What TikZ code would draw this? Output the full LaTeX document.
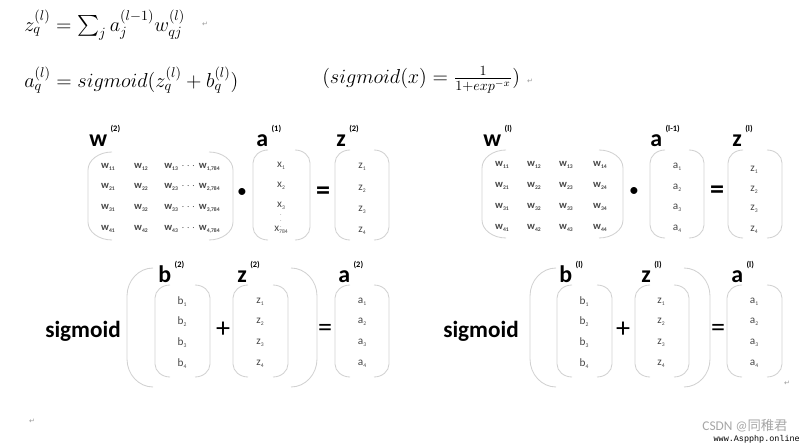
\documentclass[tikz,border=0pt]{standalone}
\usepackage{amsmath,amssymb}
\usepackage{fontspec}
\usepackage{xcolor}
\usepackage{tikz}
\usetikzlibrary{positioning}

\newfontfamily\calib{Carlito}
\newfontfamily\symf{DejaVu Sans}
\newfontfamily\cjk{Noto Sans CJK SC}
\newfontfamily\monof{Liberation Mono}

% entry with a tiny lowered index
\newcommand\ent[2]{#1\raisebox{-0.35ex}{\fontsize{4}{4}\selectfont #2}}
% vector label with a small raised layer tag
\newcommand\vlab[2]{#1\hspace{2.5pt}\raisebox{1.35ex}{\fontsize{6}{6}\selectfont #2}}

\begin{document}
\begin{tikzpicture}[
    x=0.025cm, y=-0.025cm,
    % thin grey bracket lines
    brk/.style={draw=black!18, line width=0.6pt},
    % formulas at the top
    eqn/.style={font=\fontsize{14.8}{18}\selectfont, anchor=west, inner sep=0pt},
    % bold vector names
    lbl/.style={font=\calib\bfseries\fontsize{17}{17}\selectfont, anchor=base west, inner sep=0pt},
    % matrix entries
    wentry/.style={font=\calib\bfseries\fontsize{7.5}{8}\selectfont, text=black!72, inner sep=0pt},
    entry/.style={font=\calib\fontsize{8}{8}\selectfont, text=black!72, inner sep=0pt},
    % operators between the brackets
    opsign/.style={font=\calib\fontsize{20}{20}\selectfont, inner sep=0pt},
    bigword/.style={font=\calib\bfseries\fontsize{16.5}{17}\selectfont, inner sep=0pt},
    % paragraph marks
    retmark/.style={font=\symf\fontsize{5}{5}\selectfont, text=black!40, inner sep=0pt},
]

\useasboundingbox (0,0) rectangle (800,444);

% x0 x1 top bottom rx ry
\def\brk#1#2#3#4#5#6{%
  \draw[brk] (#1+#5,#3) .. controls (#1+0.45*#5,#3) and (#1,#3+0.45*#6) .. (#1,#3+#6)
     -- (#1,#4-#6) .. controls (#1,#4-0.45*#6) and (#1+0.45*#5,#4) .. (#1+#5,#4);
  \draw[brk] (#2-#5,#3) .. controls (#2-0.45*#5,#3) and (#2,#3+0.45*#6) .. (#2,#3+#6)
     -- (#2,#4-#6) .. controls (#2,#4-0.45*#6) and (#2-0.45*#5,#4) .. (#2-#5,#4);}

% ===== Formulas =====
\node[eqn] (f_z) at (24,25) {$z_q^{(l)} = \sum_j a_j^{(l-1)} w_{qj}^{(l)}$};
\node[eqn] (f_a) at (24,80) {$a_q^{(l)} = sigmoid(z_q^{(l)} + b_q^{(l)})$};
\node[eqn, font=\fontsize{14}{17}\selectfont] (f_s) at (322,80) {$(sigmoid(x) = \frac{1}{1+exp^{-x}})$};
\node[retmark] (r1) at (205,24) {↵};
\node[retmark] (r2) at (530,81) {↵};

% ===== Top left: w(2) . a(1) = z(2) =====
\node[lbl] (wl2) at (89,147) {\vlab{w}{(2)}};
\brk{88}{233}{152}{240}{24}{18}
\foreach \r/\yy in {1/167, 2/187, 3/208, 4/229} {
  \node[wentry] (w2-\r-1) at (108,\yy) {\ent{w}{\r1}};
  \node[wentry] (w2-\r-2) at (141,\yy) {\ent{w}{\r2}};
  \node[wentry] (w2-\r-3) at (192,\yy) {\ent{w}{\r3}\,\,$\cdots$\,\ent{w}{\r,784}};
}
\node[opsign, font=\calib\fontsize{14}{14}\selectfont] (dot1) at (242,193) {\textbullet};
\node[lbl] (al1) at (256,147) {\vlab{a}{(1)}};
\brk{253}{310}{150}{240}{15}{13}
\node[entry] (x1) at (281,166) {\ent{x}{1}};
\node[entry] (x2) at (281,186) {\ent{x}{2}};
\node[entry] (x3) at (281,206) {\ent{x}{3}};
\node[entry, font=\fontsize{4.5}{4.5}\selectfont] (xd) at (281,217) {$\vdots$};
\node[entry] (x784) at (281,230) {\ent{x}{784}};
\node[opsign] (eq1) at (323,193) {\textbf{=}};
\node[lbl] (zl2) at (336,147) {\vlab{z}{(2)}};
\brk{335}{389}{150}{240}{15}{13}
\foreach \r/\yy in {1/167, 2/189, 3/210, 4/231}
  \node[entry] (z2-\r) at (362,\yy) {\ent{z}{\r}};

% ===== Top right: w(l) . a(l-1) = z(l) =====
\node[lbl] (wll) at (483,147) {\vlab{w}{(l)}};
\brk{482}{623}{150}{238}{24}{18}
\foreach \r/\yy in {1/165, 2/186, 3/207, 4/228} {
  \foreach \c/\xx in {1/502, 2/534, 3/566, 4/600}
    \node[wentry] (wl-\r-\c) at (\xx,\yy) {\ent{w}{\r\c}};
}
\node[opsign, font=\calib\fontsize{14}{14}\selectfont] (dot2) at (634,192) {\textbullet};
\node[lbl] (all) at (650,147) {\vlab{a}{(l-1)}};
\brk{650}{704}{150}{238}{15}{13}
\foreach \r/\yy in {1/167, 2/188, 3/208, 4/229}
  \node[entry] (al-\r) at (677,\yy) {\ent{a}{\r}};
\node[opsign] (eq2) at (717,192) {\textbf{=}};
\node[lbl] (zll) at (732,147) {\vlab{z}{(l)}};
\brk{728}{782}{150}{238}{15}{13}
\foreach \r/\yy in {1/170, 2/190, 3/209, 4/230}
  \node[entry] (zl-\r) at (754,\yy) {\ent{z}{\r}};

% ===== Bottom left: sigmoid(b(2) + z(2)) = a(2) =====
\node[bigword] (sig2) at (83,331) {sigmoid};
\brk{127}{317}{268}{387}{26}{28}
\node[lbl] (bl2) at (158,283) {\vlab{b}{(2)}};
\brk{155}{210}{285}{377}{15}{13}
\node[opsign] (plus2) at (223,330) {+};
\node[lbl] (zb2) at (237,283) {\vlab{z}{(2)}};
\brk{233}{288}{285}{377}{15}{13}
\node[opsign] (eq3) at (325,330) {=};
\node[lbl] (ab2) at (338,283) {\vlab{a}{(2)}};
\brk{335}{389}{285}{377}{15}{13}
\foreach \r/\yy in {1/302, 2/322, 3/343, 4/364} {
  \node[entry] (b2-\r) at (182,\yy) {\ent{b}{\r}};
  \node[entry] (zz2-\r) at (260,\yy) {\ent{z}{\r}};
  \node[entry] (a2-\r) at (362,\yy) {\ent{a}{\r}};
}

% ===== Bottom right: sigmoid(b(l) + z(l)) = a(l) =====
\node[bigword] (sigl) at (481,331) {sigmoid};
\brk{530}{710}{268}{387}{26}{28}
\node[lbl] (bll) at (559,283) {\vlab{b}{(l)}};
\brk{557}{612}{285}{377}{15}{13}
\node[opsign] (plusl) at (623,330) {+};
\node[lbl] (zbl) at (641,283) {\vlab{z}{(l)}};
\brk{635}{689}{285}{377}{15}{13}
\node[opsign] (eq4) at (718,330) {=};
\node[lbl] (abl) at (731,283) {\vlab{a}{(l)}};
\brk{727}{782}{285}{377}{15}{13}
\foreach \r/\yy in {1/302, 2/322, 3/343, 4/364} {
  \node[entry] (bl-\r) at (584,\yy) {\ent{b}{\r}};
  \node[entry] (zzl-\r) at (661,\yy) {\ent{z}{\r}};
  \node[entry] (aal-\r) at (754,\yy) {\ent{a}{\r}};
}

\node[retmark] (r3) at (787,383) {↵};
\node[retmark] (r4) at (32,421) {↵};

% watermark
\node[font=\calib\fontsize{9.5}{10}\selectfont, text=black!35, inner sep=0pt] (wm1) at (745,426) {CSDN @{\cjk 同稚君}};
\node[font=\monof\fontsize{6}{6}\selectfont, inner sep=0pt, anchor=east] (wm2) at (800,439) {www.Aspphp.online};

\end{tikzpicture}
\end{document}
